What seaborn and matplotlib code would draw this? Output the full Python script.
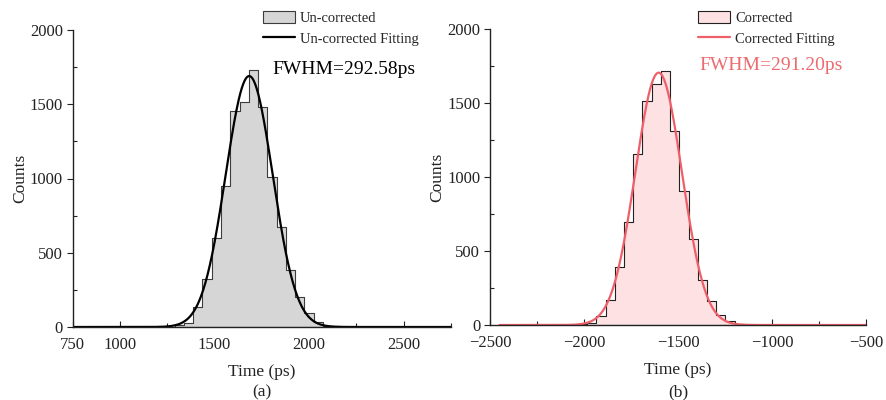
import numpy as np
import pandas as pd
import matplotlib
matplotlib.use("Agg")
import matplotlib.pyplot as plt
from matplotlib.ticker import MultipleLocator
from matplotlib.patches import Patch
from matplotlib.lines import Line2D
import seaborn as sns

# DATA ===========================================================================================================

# (a) un-corrected histogram: bin edges (ps) and counts per bin
uncorr_edges = [1289, 1338, 1387, 1436, 1485, 1534, 1583, 1632, 1681, 1730, 1779,
                1828, 1877, 1926, 1975, 2024, 2073, 2122, 2171]
uncorr_counts = [12, 28, 137, 321, 597, 949, 1457, 1517, 1731, 1484,
                 1008, 675, 384, 200, 92, 36, 10, 4]

# (b) corrected histogram
corr_edges = [-2081, -2032, -1983, -1934, -1885, -1836, -1787, -1738, -1689, -1640,
              -1591, -1542, -1493, -1444, -1395, -1346, -1297, -1248, -1199, -1150]
corr_counts = [3, 4, 16, 61, 169, 390, 694, 1153, 1516, 1628,
               1718, 1309, 907, 581, 307, 160, 70, 25, 5]

# gaussian fit parameters (center ps, peak counts, FWHM ps)
uncorr_fit = {"center": 1683, "peak": 1690, "fwhm": 292.58}
corr_fit = {"center": -1603, "peak": 1705, "fwhm": 291.20}

uncorr_xlim = (750, 2750)
corr_xlim = (-2500, -500)
uncorr_xticks = [750, 1000, 1500, 2000, 2500]
corr_xticks = [-2500, -2000, -1500, -1000, -500]
yticks = [0, 500, 1000, 1500, 2000]

GRAY_FILL = "#d6d6d6"
PINK_FILL = "#fde1e3"
RED = "#ee5f6a"
RED_TEXT = "#ec6a6e"
INK = "#222222"


def gauss_curve(fit, x0, x1):
    x = np.linspace(x0, x1, 500)
    sigma = fit["fwhm"] / (2 * np.sqrt(2 * np.log(2)))
    y = fit["peak"] * np.exp(-0.5 * ((x - fit["center"]) / sigma) ** 2)
    return pd.DataFrame({"x": x, "y": y})


# PLOTTER ========================================================================================================

sns.set_theme(style="ticks")
plt.rcParams["font.family"] = ["Liberation Serif", "DejaVu Serif"]
plt.rcParams["axes.unicode_minus"] = True

fig = plt.figure(figsize=(8.87, 4), dpi=100)
ax1 = fig.add_axes([72.7 / 887, 73 / 400, (451 - 72.7) / 887, 297 / 400])
ax2 = fig.add_axes([490 / 887, 75 / 400, 376 / 887, 296 / 400])

panels = [
    (ax1, uncorr_edges, uncorr_counts, uncorr_fit, GRAY_FILL, "#3c3c3c", "black",
     "Un-corrected", uncorr_xlim, uncorr_xticks, (750, 2750), 263 / 887, "(a)"),
    (ax2, corr_edges, corr_counts, corr_fit, PINK_FILL, INK, RED,
     "Corrected", corr_xlim, corr_xticks, (-2450, -500), 698 / 887, "(b)"),
]

for (ax, edges, counts, fit, fill, edge, lcol, name, xlim, xticks,
     crange, legx, tag) in panels:
    centers = [(a + b) / 2 for a, b in zip(edges[:-1], edges[1:])]
    hist_df = pd.DataFrame({"t": centers, "n": counts})
    sns.histplot(data=hist_df, x="t", weights="n", bins=edges, element="step",
                 fill=True, color=fill, alpha=1, edgecolor=edge, linewidth=0.8, ax=ax)
    fit_df = gauss_curve(fit, *crange)
    sns.lineplot(data=fit_df, x="x", y="y", color=lcol, linewidth=1.6, ax=ax)

    ax.set_xlim(*xlim)
    ax.set_ylim(0, 2000)
    ax.set_xticks(xticks)
    ax.xaxis.set_minor_locator(MultipleLocator(250))
    ax.set_yticks(yticks)
    ax.yaxis.set_minor_locator(MultipleLocator(250))
    ax.tick_params(axis="x", which="both", direction="in", labelsize=12, pad=7,
                   color=INK, labelcolor=INK)
    ax.tick_params(axis="x", which="major", length=4, width=0.8)
    ax.tick_params(axis="x", which="minor", length=3, width=0.8)
    ax.tick_params(axis="y", which="major", direction="out", length=4, width=0.8,
                   labelsize=12, pad=3, color=INK, labelcolor=INK)
    ax.tick_params(axis="y", which="minor", direction="in", length=3, width=0.8,
                   color=INK)
    for s in ["left", "bottom"]:
        ax.spines[s].set_linewidth(1.0)
        ax.spines[s].set_color(INK)
    sns.despine(ax=ax)

    ax.set_xlabel("Time (ps)", fontsize=12.5, labelpad=8, color=INK)
    ax.set_ylabel("Counts", fontsize=12.5, labelpad=1, color=INK)

    handles = [Patch(facecolor=fill, edgecolor=edge, linewidth=0.8),
               Line2D([0], [0], color=lcol, linewidth=1.6)]
    ax.legend(handles, [name, f"{name} Fitting"], loc="upper left",
              bbox_to_anchor=(legx, 0.972), bbox_transform=fig.transFigure,
              frameon=False, fontsize=10.5, handlelength=2.2, handleheight=0.9,
              handletextpad=0.35, labelspacing=0.45, borderpad=0, borderaxespad=0)

    bbox = ax.get_position()
    fig.text((bbox.x0 + bbox.x1) / 2, 8 / 400, tag, ha="center", va="center",
             fontsize=12.5, color=INK)

# FWHM annotations
fig.text(272 / 887, 1 - 70 / 400, f"FWHM={uncorr_fit['fwhm']:.2f}ps", fontsize=14,
         color="black", va="center", ha="left")
fig.text(699 / 887, 1 - 65 / 400, f"FWHM={corr_fit['fwhm']:.2f}ps", fontsize=14,
         color=RED_TEXT, va="center", ha="left")

plt.savefig("out.png", dpi=100)
